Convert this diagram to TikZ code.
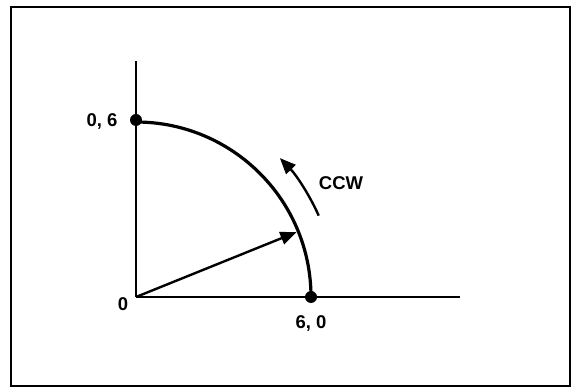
\documentclass[tikz,border=0pt]{standalone}
\usepackage{fontspec}
\setmainfont{Liberation Sans}
\usetikzlibrary{arrows.meta,calc}
\begin{document}
\begin{tikzpicture}[x=1pt,y=1pt,
  lbl/.style={font=\fontsize{18.5}{18.5}\selectfont\bfseries, inner sep=0pt},
  dot/.style={circle, fill=black, inner sep=0pt, minimum size=12pt},
  axis/.style={line width=1.6pt},
  tip/.style={-{Triangle[length=16pt,width=13pt]}}]
\useasboundingbox (0,0) rectangle (576,388);
\draw[line width=1.8pt] (11,2) rectangle (570,381);
\coordinate (O) at (136,91);
\coordinate (ytop) at (136,327);
\coordinate (xend) at (460,91);
\draw[axis] (O) -- (ytop);
\draw[axis] (O) -- (xend);
\node[dot] (p06) at (136,268) {};
\node[dot] (p60) at (311,91) {};
\draw[line width=3.2pt] (p60.center) arc[start angle=0, end angle=90, radius=175];
\coordinate (v) at ($(O)+(22:173)$);
\draw[line width=2.4pt, tip] (O) -- (v);
\coordinate (c1) at ($(O)+(24:200)$);
\draw[line width=2.4pt, tip] (c1) arc[start angle=24, end angle=44, radius=200];
\node[lbl] (l06) at (102,267) {0, 6};
\node[lbl] (l0) at (123,84) {0};
\node[lbl] (l60) at (311,65) {6, 0};
\node[lbl] (ccw) at (341,205) {CCW};
\end{tikzpicture}
\end{document}
